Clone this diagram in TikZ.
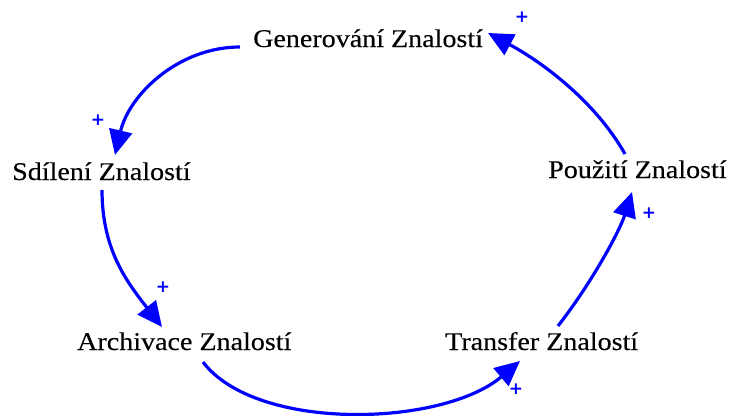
\documentclass[tikz,border=0pt]{standalone}
\usepackage{fontspec}
\setmainfont{Liberation Serif}[FakeStretch=1.1,FakeBold=0.3]
\newfontfamily\plusfont{DejaVu Sans}
\usetikzlibrary{arrows.meta}
\begin{document}
\begin{tikzpicture}[x=1pt,y=-1pt,
  lbl/.style={anchor=base west,inner sep=0pt,font=\fontsize{25.5}{30}\selectfont,text=black},
  pl/.style={inner sep=0pt,font=\plusfont\fontsize{17}{19}\selectfont\bfseries,text=blue},
  link/.style={draw=blue,line width=3.2pt,-{Triangle[length=25pt,width=23pt]}}]
\useasboundingbox (0,0) rectangle (733,415);
\node[lbl] (gen) at (253,47) {Generování Znalostí};
\node[lbl] (sdi) at (12,180) {Sdílení Znalostí};
\node[lbl] (arc) at (77,350) {Archivace Znalostí};
\node[lbl] (tra) at (445,350) {Transfer Znalostí};
\node[lbl] (pou) at (548,178) {Použití Znalostí};
\node[pl] (p1) at (522,17) {+};
\node[pl] (p2) at (98,120) {+};
\node[pl] (p3) at (163,287) {+};
\node[pl] (p4) at (516,389) {+};
\node[pl] (p5) at (649,213) {+};
\draw[link] ([shift={(-13,0)}]gen.base west) .. controls +(-62,0) and +(14,-60) .. ([shift={(103,-25)}]sdi.base west);
\draw[link] ([shift={(90,10)}]sdi.base west) .. controls +(0,60) and +(-35,-45) .. ([shift={(85,-23)}]arc.base west);
\draw[link] ([shift={(126,12)}]arc.base west) .. controls +(53,70) and +(-78,66) .. ([shift={(75,11)}]tra.base west);
\draw[link] ([shift={(113,-24)}]tra.base west) .. controls +(35,-45) and +(-12,38) .. ([shift={(84,14)}]pou.base west);
\draw[link] ([shift={(77,-24)}]pou.base west) .. controls +(-30,-53) and +(54,29) .. ([shift={(235,-14)}]gen.base west);
\end{tikzpicture}
\end{document}
